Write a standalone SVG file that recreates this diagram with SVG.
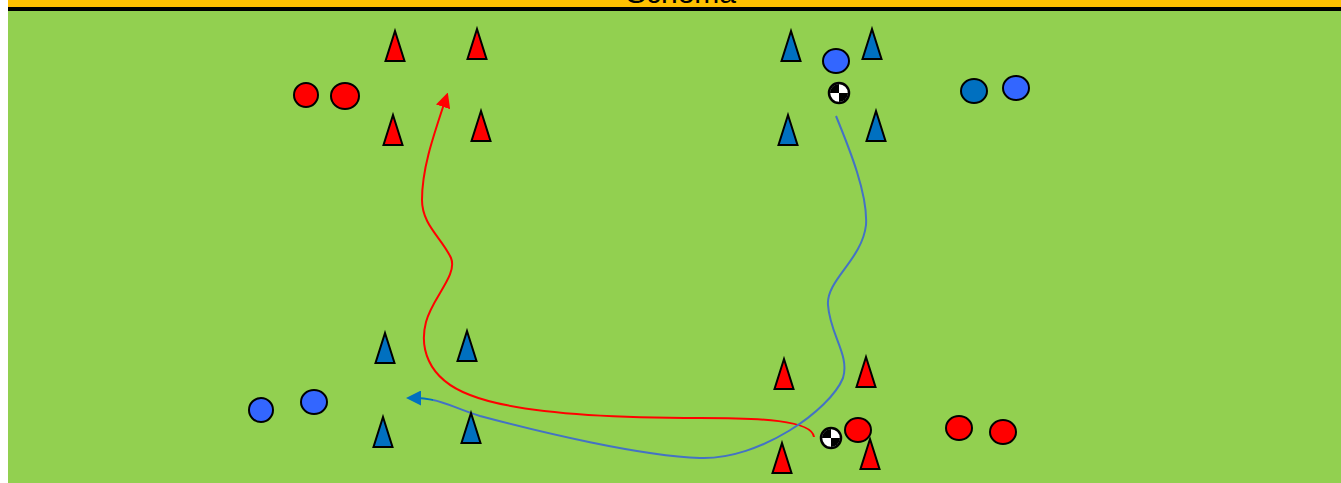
<svg xmlns="http://www.w3.org/2000/svg" width="1341" height="483" viewBox="0 0 1341 483">
<style>
.cone{stroke:#000;stroke-width:2;stroke-linejoin:miter}
.r{fill:#FF0000}
.b{fill:#0070C0}
.lb{fill:#3366FF}
.pl{stroke:#000;stroke-width:2}
.path{fill:none;stroke-width:2}
</style>
<defs>
<marker id="ar" viewBox="0 0 10 10" refX="2" refY="5" markerWidth="7.5" markerHeight="7.5" orient="auto-start-reverse" markerUnits="strokeWidth"><path d="M0,0 L10,5 L0,10 z" fill="#FF0000"/></marker>
<marker id="ab" viewBox="0 0 10 10" refX="2" refY="5" markerWidth="7.5" markerHeight="7.5" orient="auto-start-reverse" markerUnits="strokeWidth"><path d="M0,0 L10,5 L0,10 z" fill="#0070C0"/></marker>
<g id="ballg">
<circle cx="0" cy="0" r="10" fill="#fff" stroke="#000" stroke-width="2.5"/>
<path d="M0,-9 A9,9 0 0 0 -9,0 L0,0 z" fill="#000"/>
<path d="M0,0 L9,0 A9,9 0 0 1 0,9 z" fill="#000"/>
</g>
</defs>
<rect x="0" y="0" width="1341" height="483" fill="#fff"/>
<rect x="8" y="0" width="1333" height="483" fill="#92D050"/>
<rect x="8" y="0" width="1333" height="7" fill="#FFC000"/>
<rect x="8" y="7" width="1333" height="4" fill="#000"/>
<text x="681" y="3" font-family="Liberation Sans, Arial, sans-serif" font-size="30" text-anchor="middle" fill="#000">Schema</text>

<g id="connectors">
<path class="path" stroke="#FF0000" marker-end="url(#ar)" d="M814,437 C812,420 760,418 700,418 C620,418 520,415 470,395 C425,378 420,345 426,322 C432,298 458,275 451,258 C442,238 422,225 422,200 C422,170 432,140 444,104"/>
<path class="path" stroke="#4472C4" d="M836,116 C850,150 868,195 866,225 C862,260 826,280 828,305 C830,335 850,355 843,378 C830,410 760,460 700,458 C640,456 540,432 480,416 C460,410 445,402 433,400"/>
<path class="path" stroke="#0070C0" marker-end="url(#ab)" d="M433,400 C428,399 424,398 418,398"/>
</g>

<g id="top-left">
<polygon class="cone r" points="395,31 385.5,61 404.5,61"/>
<polygon class="cone r" points="477,29 467.5,59 486.5,59"/>
<polygon class="cone r" points="393,115 383.5,145 402.5,145"/>
<polygon class="cone r" points="481,111 471.5,141 490.5,141"/>
<ellipse class="pl r" cx="306" cy="95" rx="12" ry="12"/>
<ellipse class="pl r" cx="345" cy="96" rx="14" ry="13"/>
</g>

<g id="top-right">
<polygon class="cone b" points="791,31 781.5,61 800.5,61"/>
<polygon class="cone b" points="872,29 862.5,59 881.5,59"/>
<polygon class="cone b" points="788,115 778.5,145 797.5,145"/>
<polygon class="cone b" points="876,111 866.5,141 885.5,141"/>
<ellipse class="pl lb" cx="836" cy="61" rx="13" ry="12"/>
<use href="#ballg" x="839" y="93"/>
<ellipse class="pl b" cx="974" cy="91" rx="13" ry="12"/>
<ellipse class="pl lb" cx="1016" cy="88" rx="13" ry="12"/>
</g>

<g id="bottom-left">
<polygon class="cone b" points="385,333 375.5,363 394.5,363"/>
<polygon class="cone b" points="467,331 457.5,361 476.5,361"/>
<polygon class="cone b" points="383,417 373.5,447 392.5,447"/>
<polygon class="cone b" points="471,413 461.5,443 480.5,443"/>
<ellipse class="pl lb" cx="261" cy="410" rx="12" ry="12"/>
<ellipse class="pl lb" cx="314" cy="402" rx="13" ry="12"/>
</g>

<g id="bottom-right">
<polygon class="cone r" points="784,359 774.5,389 793.5,389"/>
<polygon class="cone r" points="866,357 856.5,387 875.5,387"/>
<polygon class="cone r" points="782,443 772.5,473 791.5,473"/>
<polygon class="cone r" points="870,439 860.5,469 879.5,469"/>
<use href="#ballg" x="831" y="438"/>
<ellipse class="pl r" cx="858" cy="430" rx="13" ry="12"/>
<ellipse class="pl r" cx="959" cy="428" rx="13" ry="12"/>
<ellipse class="pl r" cx="1003" cy="432" rx="13" ry="12"/>
</g>
</svg>
